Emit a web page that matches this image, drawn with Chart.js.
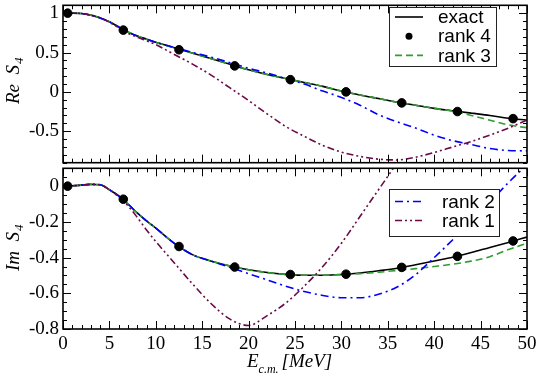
<!DOCTYPE html>
<html>
<head>
<meta charset="utf-8">
<script src="https://cdn.jsdelivr.net/npm/chart.js@4.4.1/dist/chart.umd.min.js"></script>
<style>
  html, body { margin: 0; padding: 0; background: #fff; }
  #wrap { position: relative; width: 538px; height: 375px; }
  canvas { position: absolute; left: 0; }
</style>
</head>
<body>
<div id="wrap">
  <canvas id="reChart" width="538" height="168" style="top:0"></canvas>
  <canvas id="imChart" width="538" height="212" style="top:163px"></canvas>
</div>
<script>
// energy grid for the curves (MeV)
const energies = [0, 1, 2, 3, 4, 5, 6, 7, 8, 9, 10, 12, 14, 16, 18, 20, 22, 24, 26, 28, 30, 32, 34, 36, 38, 40, 42, 44, 46, 48, 50];

// Re S4
const reExact = [1.0, 1.0, 0.995, 0.975, 0.94, 0.89, 0.825, 0.76, 0.71, 0.67, 0.63, 0.56, 0.49, 0.42, 0.35, 0.28, 0.22, 0.17, 0.12, 0.07, 0.01, -0.04, -0.085, -0.13, -0.17, -0.21, -0.24, -0.27, -0.30, -0.335, -0.36];
const reRank3 = [1.0, 1.0, 0.995, 0.975, 0.94, 0.89, 0.825, 0.76, 0.71, 0.67, 0.63, 0.56, 0.49, 0.42, 0.35, 0.28, 0.22, 0.17, 0.12, 0.07, 0.01, -0.04, -0.085, -0.13, -0.17, -0.21, -0.245, -0.30, -0.36, -0.42, -0.455];
const reRank2 = [1.0, 1.0, 0.995, 0.975, 0.94, 0.89, 0.825, 0.76, 0.71, 0.67, 0.63, 0.565, 0.50, 0.44, 0.37, 0.30, 0.24, 0.17, 0.10, 0.01, -0.07, -0.17, -0.29, -0.38, -0.46, -0.55, -0.62, -0.67, -0.72, -0.745, -0.75];
const reRank1 = [1.0, 1.0, 0.995, 0.975, 0.94, 0.885, 0.815, 0.745, 0.695, 0.65, 0.60, 0.475, 0.35, 0.21, 0.05, -0.11, -0.28, -0.44, -0.565, -0.68, -0.765, -0.82, -0.855, -0.865, -0.83, -0.77, -0.70, -0.63, -0.55, -0.46, -0.36];

// Im S4
const imExact = [0, 0.002, 0.006, 0.01, 0.008, -0.02, -0.055, -0.10, -0.15, -0.195, -0.235, -0.32, -0.385, -0.42, -0.447, -0.468, -0.484, -0.494, -0.499, -0.499, -0.495, -0.486, -0.474, -0.46, -0.44, -0.419, -0.398, -0.372, -0.343, -0.315, -0.285];
const imRank3 = [0, 0.002, 0.006, 0.01, 0.008, -0.02, -0.055, -0.10, -0.15, -0.195, -0.235, -0.32, -0.385, -0.42, -0.447, -0.468, -0.484, -0.494, -0.499, -0.499, -0.495, -0.49, -0.482, -0.472, -0.462, -0.45, -0.437, -0.42, -0.395, -0.355, -0.32];
const imRank2 = [0, 0.002, 0.006, 0.01, 0.008, -0.02, -0.055, -0.10, -0.15, -0.195, -0.235, -0.32, -0.385, -0.42, -0.455, -0.49, -0.525, -0.56, -0.59, -0.612, -0.625, -0.625, -0.605, -0.565, -0.495, -0.40, -0.30, -0.195, -0.09, 0.02, 0.12];
const imRank1 = [0, 0.002, 0.006, 0.01, 0.008, -0.02, -0.06, -0.11, -0.175, -0.245, -0.31, -0.43, -0.55, -0.66, -0.745, -0.78, -0.725, -0.655, -0.56, -0.45, -0.32, -0.17, -0.02, 0.13, null, null, null, null, null, null, null];

// rank 4 markers
const rank4E = [0.5, 6.5, 12.5, 18.5, 24.5, 30.5, 36.5, 42.5, 48.5];
const rank4Re = [1.0, 0.785, 0.535, 0.33, 0.155, 0.0, -0.14, -0.25, -0.34];
const rank4Im = [0.0, -0.073, -0.338, -0.453, -0.495, -0.493, -0.455, -0.393, -0.307];

// tick labels
const xTicks = [0, 5, 10, 15, 20, 25, 30, 35, 40, 45, 50];
const reTicks = [-0.5, 0, 0.5, 1];
const imTicks = [-0.8, -0.6, -0.4, -0.2, 0];

const toXY = (xs, ys) => xs.map((x, i) => ({ x: x, y: ys[i] }));

function curve(label, ys, color, dash) {
  return {
    label: label,
    data: toXY(energies, ys),
    borderColor: color,
    backgroundColor: color,
    borderWidth: 1.6,
    borderDash: dash,
    pointRadius: 0,
    cubicInterpolationMode: 'monotone',
    spanGaps: false
  };
}

function markers(ys) {
  return {
    label: 'rank 4',
    data: toXY(rank4E, ys),
    showLine: false,
    pointRadius: 4.3,
    pointBackgroundColor: '#000',
    pointBorderColor: '#000',
    borderColor: '#000',
    backgroundColor: '#000'
  };
}

const GREEN = '#2e9e2e';
const BLUE = '#0000ff';
const MAROON = '#6b0a4a';
const SERIF = '"Liberation Serif", "Times New Roman", serif';
const SANS = '"Liberation Sans", Arial, sans-serif';

// inward ticks on all four sides plus the frame
const frameTicks = {
  id: 'frameTicks',
  afterDatasetsDraw(chart, args, opts) {
    const ctx = chart.ctx;
    const a = chart.chartArea;
    const x = chart.scales.x, y = chart.scales.y;
    ctx.save();
    ctx.strokeStyle = '#000';
    ctx.lineWidth = 1;
    ctx.beginPath();
    for (let i = 0; i <= 50; i++) {
      const px = Math.round(x.getPixelForValue(i)) + 0.5;
      const len = i % 5 === 0 ? 8 : 4;
      ctx.moveTo(px, a.bottom); ctx.lineTo(px, a.bottom - len);
      ctx.moveTo(px, a.top); ctx.lineTo(px, a.top + len);
    }
    const n = Math.round((y.max - y.min) / opts.minor);
    for (let j = 0; j <= n; j++) {
      const v = y.min + j * opts.minor;
      const r = v / opts.major;
      const major = Math.abs(r - Math.round(r)) < 1e-6;
      const len = major ? 8 : 4;
      const py = Math.round(y.getPixelForValue(v)) + 0.5;
      ctx.moveTo(a.left, py); ctx.lineTo(a.left + len, py);
      ctx.moveTo(a.right, py); ctx.lineTo(a.right - len, py);
    }
    ctx.stroke();
    ctx.lineWidth = 1.6;
    ctx.strokeRect(a.left, a.top, a.width, a.height);
    ctx.restore();
  }
};

// boxed legend with line samples
const legendBox = {
  id: 'legendBox',
  afterDraw(chart, args, opts) {
    const ctx = chart.ctx;
    ctx.save();
    ctx.fillStyle = '#fff';
    ctx.fillRect(opts.x, opts.y, opts.w, opts.h);
    ctx.strokeStyle = '#222';
    ctx.lineWidth = 1;
    ctx.strokeRect(opts.x + 0.5, opts.y + 0.5, opts.w, opts.h);
    ctx.font = '19px ' + SANS;
    ctx.textBaseline = 'middle';
    opts.items.forEach((label, k) => {
      const ds = chart.data.datasets.find(d => d.label === label);
      const cy = opts.firstRow + k * opts.rowGap;
      if (ds.showLine === false) {
        ctx.fillStyle = '#000';
        ctx.beginPath();
        ctx.arc(opts.x + 20, cy, 3.5, 0, Math.PI * 2);
        ctx.fill();
      } else {
        ctx.strokeStyle = ds.borderColor;
        ctx.lineWidth = 1.6;
        ctx.setLineDash(ds.borderDash || []);
        ctx.beginPath();
        ctx.moveTo(opts.x + 6, cy);
        ctx.lineTo(opts.x + 34, cy);
        ctx.stroke();
        ctx.setLineDash([]);
      }
      ctx.fillStyle = '#000';
      ctx.fillText(label, opts.textX, cy + 1);
    });
    ctx.restore();
  }
};

// axis titles with subscripts
const axisTitles = {
  id: 'axisTitles',
  afterDraw(chart, args, opts) {
    const ctx = chart.ctx;
    ctx.save();
    ctx.fillStyle = '#000';
    ctx.textBaseline = 'alphabetic';
    ctx.translate(opts.yx, opts.yBottom);
    ctx.rotate(-Math.PI / 2);
    ctx.font = 'italic 19px ' + SERIF;
    ctx.fillText(opts.yMain, 0, 0);
    let w = ctx.measureText(opts.yMain).width;
    ctx.fillText('S', w, 0);
    w += ctx.measureText('S').width;
    ctx.font = 'italic 13px ' + SERIF;
    ctx.fillText('4', w + 1, 4);
    ctx.restore();
    if (opts.xTitle) {
      ctx.save();
      ctx.fillStyle = '#000';
      let x0 = opts.xTitle.x;
      const base = opts.xTitle.y;
      ctx.font = 'italic 19px ' + SERIF;
      ctx.fillText('E', x0, base);
      x0 += ctx.measureText('E').width;
      ctx.font = 'italic 12px ' + SERIF;
      ctx.fillText('c.m.', x0, base + 6);
      x0 += ctx.measureText('c.m.').width + 3;
      ctx.font = 'italic 19px ' + SERIF;
      ctx.fillText('[MeV]', x0, base);
      ctx.restore();
    }
  }
};

function buildDatasets(ex, r3, r2, r1, r4) {
  return [
    markers(r4),
    curve('rank 1', r1, MAROON, [7, 3, 2, 3, 2, 3]),
    curve('rank 2', r2, BLUE, [8, 4, 2, 4]),
    curve('rank 3', r3, GREEN, [7, 4]),
    curve('exact', ex, '#000', [])
  ];
}

function yAxis(min, max, tickValues) {
  return {
    type: 'linear',
    min: min,
    max: max,
    grid: { display: false, drawTicks: false },
    border: { display: false },
    afterBuildTicks: s => { s.ticks = tickValues.map(v => ({ value: v })); },
    ticks: {
      padding: 4,
      color: '#000',
      font: { family: SERIF, size: 19 },
      callback: v => String(v)
    },
    afterFit: s => { s.width = 63; s.paddingTop = 0; s.paddingBottom = 0; }
  };
}

Chart.defaults.font.family = SERIF;

new Chart(document.getElementById('reChart'), {
  type: 'line',
  data: { datasets: buildDatasets(reExact, reRank3, reRank2, reRank1, rank4Re) },
  options: {
    responsive: false,
    animation: false,
    devicePixelRatio: 1,
    layout: { padding: { top: 2, right: 11, bottom: 2, left: 0 } },
    scales: {
      x: { type: 'linear', min: 0, max: 50, display: false },
      y: yAxis(-0.9, 1.1, reTicks)
    },
    plugins: {
      legend: { display: false },
      tooltip: { enabled: false },
      frameTicks: { minor: 0.1, major: 0.5 },
      legendBox: { x: 389, y: 7, w: 107, h: 59, textX: 438, firstRow: 17, rowGap: 19.2, items: ['exact', 'rank 4', 'rank 3'] },
      axisTitles: { yMain: 'Re  ', yx: 19, yBottom: 104 }
    }
  },
  plugins: [frameTicks, legendBox, axisTitles]
});

new Chart(document.getElementById('imChart'), {
  type: 'line',
  data: { datasets: buildDatasets(imExact, imRank3, imRank2, imRank1, rank4Im) },
  options: {
    responsive: false,
    animation: false,
    devicePixelRatio: 1,
    layout: { padding: { top: 2, right: 11, bottom: 0, left: 0 } },
    scales: {
      x: {
        type: 'linear',
        min: 0,
        max: 50,
        grid: { display: false, drawTicks: false },
        border: { display: false },
        afterBuildTicks: s => { s.ticks = xTicks.map(v => ({ value: v })); },
        ticks: { padding: 4, color: '#000', maxRotation: 0, font: { family: SERIF, size: 19 }, callback: v => String(v) },
        afterFit: s => { s.height = 46; s.paddingLeft = 0; s.paddingRight = 0; }
      },
      y: yAxis(-0.8, 0.1, imTicks)
    },
    plugins: {
      legend: { display: false },
      tooltip: { enabled: false },
      frameTicks: { minor: 0.05, major: 0.2 },
      legendBox: { x: 389, y: 26, w: 110, h: 47, textX: 442, firstRow: 38.5, rowGap: 19, items: ['rank 2', 'rank 1'] },
      axisTitles: { yMain: 'Im  ', yx: 19, yBottom: 108, xTitle: { x: 247, y: 204 } }
    }
  },
  plugins: [frameTicks, legendBox, axisTitles]
});
</script>
</body>
</html>
